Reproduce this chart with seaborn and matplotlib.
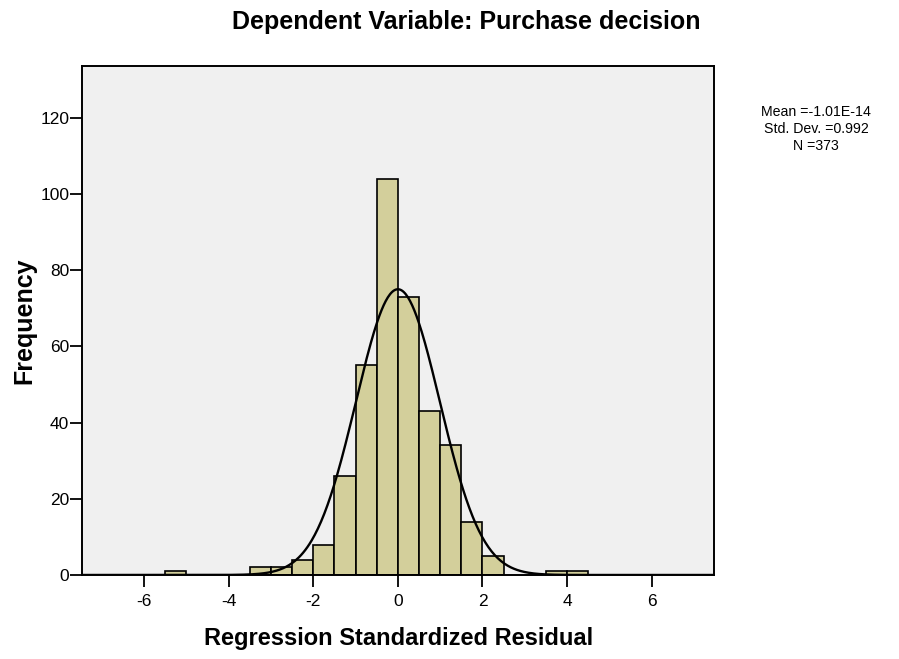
import numpy as np
import pandas as pd
import seaborn as sns
import matplotlib.pyplot as plt

# histogram of regression standardized residuals (bin width 0.5)
bin_left = [-5.5, -3.5, -3.0, -2.5, -2.0, -1.5, -1.0, -0.5, 0.0, 0.5, 1.0, 1.5, 2.0, 3.5, 4.0]
counts = [1, 2, 2, 4, 8, 26, 55, 104, 73, 43, 34, 14, 5, 1, 1]
bin_width = 0.5
mean_val = -1.01e-14
std_val = 0.992
n_obs = 373
x_ticks = [-6, -4, -2, 0, 2, 4, 6]
y_ticks = [0, 20, 40, 60, 80, 100, 120]
stats_lines = ["Mean =-1.01E-14", "Std. Dev. =0.992", "N =373"]

sns.set_style("white")
plt.rcParams['font.family'] = ['Liberation Sans', 'DejaVu Sans']
plt.rcParams['axes.unicode_minus'] = False
plt.rcParams['text.color'] = 'black'

df = pd.DataFrame({'center': np.array(bin_left) + bin_width / 2, 'count': counts})

fig = plt.figure(figsize=(8.99, 6.59), dpi=100)
ax = fig.add_axes([0.0912, 0.1275, 0.7028, 0.7723])
ax.set_facecolor('#f0f0f0')

sns.histplot(data=df, x='center', weights='count', binwidth=bin_width,
             binrange=(min(bin_left), max(bin_left) + bin_width), ax=ax,
             color='#d3cf9b', alpha=1, edgecolor='black', linewidth=1.2)
# hide empty bins so no stray outlines sit on the baseline
for p in ax.patches:
    if p.get_height() == 0:
        p.set_visible(False)

# normal curve scaled to the histogram
xs = np.linspace(-7.5, 7.5, 600)
ys = n_obs * bin_width / (std_val * np.sqrt(2 * np.pi)) * np.exp(-0.5 * ((xs - mean_val) / std_val) ** 2)
sns.lineplot(x=xs, y=ys, ax=ax, color='black', linewidth=1.7)

ax.set_xlim(-7.47, 7.47)
ax.set_ylim(0, 133.6)
ax.set_xticks(x_ticks)
ax.set_yticks(y_ticks)
ax.tick_params(axis='both', direction='out', length=8.6, width=1.3, labelsize=12.5,
               bottom=True, left=True, colors='black')
ax.tick_params(axis='x', pad=5)
ax.tick_params(axis='y', pad=0.5)
for s in ax.spines.values():
    s.set_color('black')
    s.set_linewidth(1.4)

ax.set_xlabel("")
ax.set_ylabel("")
fig.text(399 / 899, 1 - 639 / 659, "Regression Standardized Residual", ha='center', va='center',
         fontsize=17, fontweight='bold')
fig.text(24 / 899, 1 - 321 / 659, "Frequency", ha='center', va='center', rotation=90,
         fontsize=18, fontweight='bold')
fig.text(466.5 / 899, 1 - 22 / 659, "Dependent Variable: Purchase decision", ha='center', va='center',
         fontsize=18, fontweight='bold')
for i, line in enumerate(stats_lines):
    fig.text(816 / 899, 1 - (112 + 17 * i) / 659, line, ha='center', va='center', fontsize=10.2)

fig.savefig('out.png', dpi=100)
